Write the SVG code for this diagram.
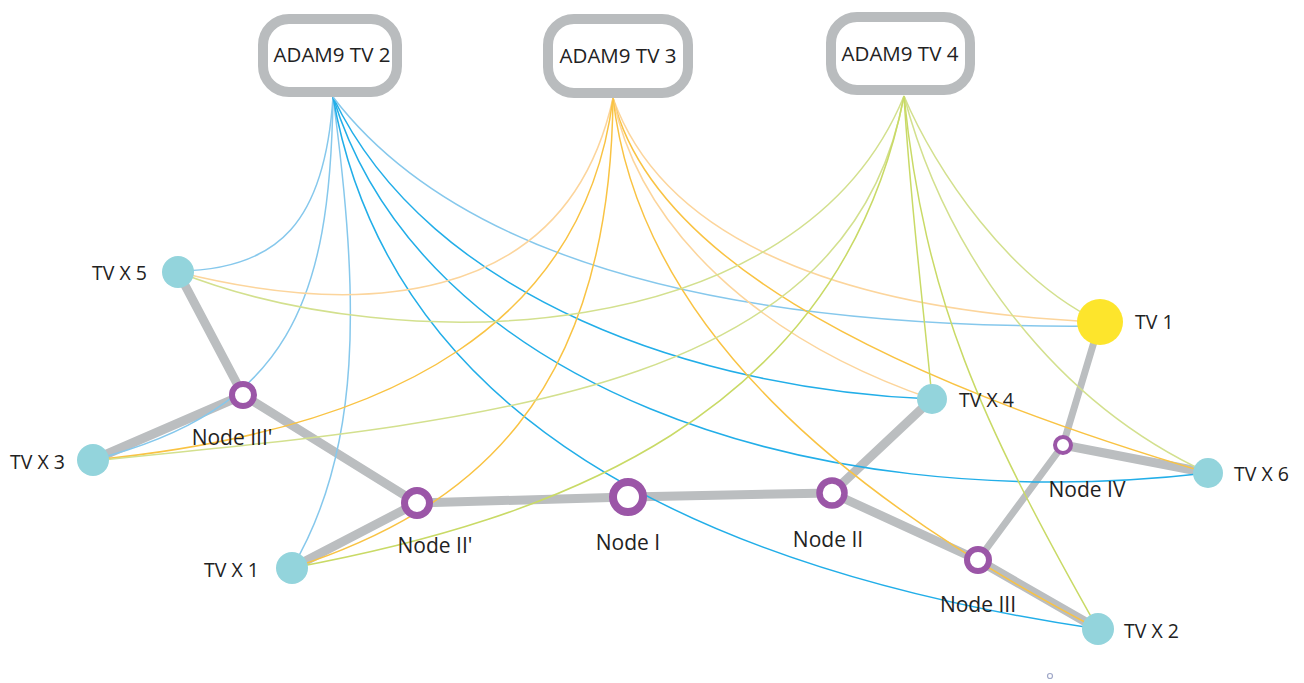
<svg xmlns="http://www.w3.org/2000/svg" width="1304" height="683" viewBox="0 0 1304 683">
<style>
.box{fill:#fff;stroke:#b9bcbe;stroke-width:10}
.bt{font-family:"Open Sans","Noto Sans",sans-serif;font-size:20.5px;fill:#222;text-anchor:middle}
.lbl{font-family:"Open Sans","Noto Sans",sans-serif;font-size:19.5px;fill:#222}
.nl{font-family:"Open Sans","Noto Sans",sans-serif;font-size:21px;fill:#222;text-anchor:middle}
.c{fill:none;stroke-width:1.5}
.b{stroke:#22aee8}.bl{stroke:#86c8ec}
.o{stroke:#f9c343}.ol{stroke:#fcd59c}
.g{stroke:#c9da66}.gl{stroke:#d3e08e}
.e{stroke:#bbbec0;stroke-width:9;stroke-linecap:round;fill:none}
.e2{stroke:#bbbec0;stroke-width:7;stroke-linecap:round;fill:none}
.tv{fill:#93d4dc}
.hub{fill:#fff;stroke:#9b56a7}
</style>
<g id="edges">
<line class="e" x1="178" y1="272" x2="243" y2="395"/>
<line class="e" x1="243" y1="395" x2="93" y2="460"/>
<line class="e" x1="243" y1="395" x2="417" y2="503"/>
<line class="e" x1="292" y1="568" x2="417" y2="503"/>
<line class="e" x1="417" y1="503" x2="628" y2="497"/>
<line class="e" x1="628" y1="497" x2="832" y2="493"/>
<line class="e" x1="832" y1="493" x2="932" y2="399"/>
<line class="e" x1="832" y1="493" x2="978" y2="560"/>
<line class="e" x1="978" y1="560" x2="1098" y2="629"/>
<line class="e2" x1="978" y1="560" x2="1063" y2="445"/>
<line class="e2" x1="1063" y1="445" x2="1100" y2="322"/>
<line class="e" x1="1063" y1="445" x2="1208" y2="473"/>
</g>
<g id="connectors">
<path class="c bl" d="M333,97 C325,220 280,270 178,271"/>
<path class="c bl" d="M333,97 C330,300 290,410 93,460"/>
<path class="c bl" d="M333,97 C360,300 362,450 292,568"/>
<path class="c b" d="M333,97 C390,420 700,570 1098,629"/>
<path class="c b" d="M333,97 C420,380 800,520 1208,473"/>
<path class="c b" d="M333,97 C430,300 700,390 932,399"/>
<path class="c bl" d="M333,97 C450,250 700,330 1100,326"/>
<path class="c ol" d="M178,272 C350,315 565,315 613,98"/>
<path class="c o" d="M93,460 C400,430 585,320 613,98"/>
<path class="c o" d="M292,568 C470,510 610,400 613,98"/>
<path class="c ol" d="M613,98 C660,230 820,310 1100,322"/>
<path class="c o" d="M613,98 C650,250 860,370 1208,473"/>
<path class="c ol" d="M613,98 C640,230 760,340 932,399"/>
<path class="c o" d="M613,98 C640,330 850,500 1098,629"/>
<path class="c gl" d="M178,272 C400,360 800,350 904,96"/>
<path class="c gl" d="M93,461 C500,420 850,390 904,96"/>
<path class="c g" d="M292,568 C550,520 840,420 904,96"/>
<path class="c gl" d="M904,96 C935,170 1010,280 1100,322"/>
<path class="c g" d="M904,96 C910,200 925,320 932,399"/>
<path class="c gl" d="M904,96 C945,250 1050,400 1208,473"/>
<path class="c g" d="M904,96 C925,300 980,420 1098,629"/>
</g>
<g id="adam9-tv2"><rect class="box" x="263" y="19" width="134" height="73" rx="26"/><text class="bt" x="332" y="62">ADAM9 TV 2</text></g>
<g id="adam9-tv3"><rect class="box" x="548" y="19" width="140" height="74" rx="26"/><text class="bt" x="618" y="63">ADAM9 TV 3</text></g>
<g id="adam9-tv4"><rect class="box" x="831" y="17" width="139" height="73" rx="26"/><text class="bt" x="900" y="61">ADAM9 TV 4</text></g>
<g id="tvx5"><circle class="tv" cx="178" cy="272" r="16"/><text class="lbl" x="92" y="280">TV X 5</text></g>
<g id="tvx3"><circle class="tv" cx="93" cy="460" r="16"/><text class="lbl" x="10" y="469">TV X 3</text></g>
<g id="tvx1"><circle class="tv" cx="292" cy="568" r="16"/><text class="lbl" x="204" y="577">TV X 1</text></g>
<g id="tvx4"><circle class="tv" cx="932" cy="399" r="15"/><text class="lbl" x="959" y="407">TV X 4</text></g>
<g id="tvx6"><circle class="tv" cx="1208" cy="473" r="15"/><text class="lbl" x="1234" y="481">TV X 6</text></g>
<g id="tvx2"><circle class="tv" cx="1098" cy="629" r="16"/><text class="lbl" x="1124" y="638">TV X 2</text></g>
<g id="tv1"><circle cx="1100" cy="322" r="23" fill="#fde52c"/><text class="lbl" x="1135" y="329">TV 1</text></g>
<g id="node3p"><circle class="hub" cx="243" cy="395" r="11" stroke-width="6"/><text class="nl" x="232" y="445">Node III'</text></g>
<g id="node2p"><circle class="hub" cx="417" cy="503" r="12.5" stroke-width="7"/><text class="nl" x="435" y="553">Node II'</text></g>
<g id="node1"><circle class="hub" cx="628" cy="497" r="15" stroke-width="8"/><text class="nl" x="628" y="550">Node I</text></g>
<g id="node2"><circle class="hub" cx="832" cy="493" r="12.5" stroke-width="6.5"/><text class="nl" x="828" y="547">Node II</text></g>
<g id="node3"><circle class="hub" cx="978" cy="560" r="11" stroke-width="6"/><text class="nl" x="978" y="612">Node III</text></g>
<g id="node4"><circle class="hub" cx="1063" cy="445" r="8" stroke-width="4"/><text class="nl" x="1087" y="497">Node IV</text></g>
<g id="dot"><circle cx="1050" cy="676" r="2.5" fill="#fff" stroke="#a0a8c8" stroke-width="1.2"/></g>
</svg>
